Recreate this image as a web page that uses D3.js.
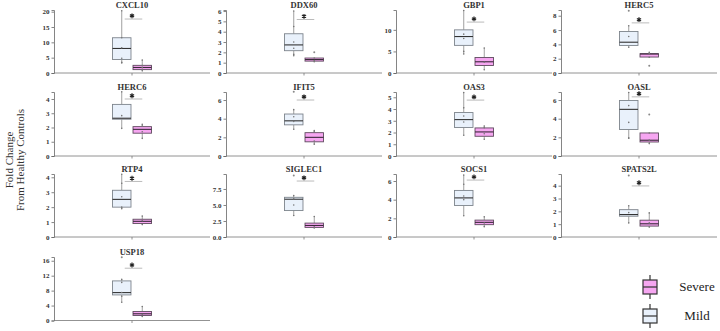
<!DOCTYPE html>
<html>
<head>
<meta charset="utf-8">
<script src="https://cdn.jsdelivr.net/npm/d3@7"></script>
<style>
  body { margin: 0; background: #fff; }
  svg { font-family: "Liberation Serif", "DejaVu Serif", serif; }
  .axis text { font-family: "Liberation Serif", serif; font-weight: bold; font-size: 7px; fill: #333; }
</style>
</head>
<body>
<svg class="chart" width="720" height="331"></svg>
<script>
// genes, one panel each
var genes = ["CXCL10", "DDX60", "GBP1", "HERC5",
             "HERC6", "IFIT5", "OAS3", "OASL",
             "RTP4", "SIGLEC1", "SOCS1", "SPATS2L",
             "USP18"];

// [min, q1, median, q3, max]
var mildStats = [
  [3.3, 4.4, 8.0, 11.5, 20.3],
  [1.67, 2.16, 2.72, 3.8, 6.0],
  [4.4, 6.4, 8.45, 10.0, 14.5],
  [3.6, 3.85, 4.3, 5.8, 6.6],
  [1.94, 2.58, 2.65, 3.62, 4.5],
  [2.87, 3.34, 3.77, 4.5, 4.97],
  [1.77, 2.43, 3.1, 3.7, 5.4],
  [1.94, 2.84, 5.0, 5.95, 6.8],
  [1.9, 2.0, 2.52, 3.13, 4.2],
  [3.35, 4.13, 5.9, 6.2, 6.47],
  [2.27, 3.38, 4.19, 4.99, 6.63],
  [1.1, 1.62, 1.75, 2.13, 2.44],
  [4.9, 6.85, 7.47, 10.6, 11.0]
];
var severeStats = [
  [0.7, 1.1, 1.8, 2.5, 4.2],
  [1.1, 1.15, 1.3, 1.45, 1.45],
  [0.76, 1.75, 2.6, 3.6, 5.8],
  [2.2, 2.23, 2.65, 2.7, 2.9],
  [1.24, 1.6, 1.87, 2.06, 2.22],
  [1.27, 1.52, 2.0, 2.5, 2.72],
  [1.43, 1.68, 2.05, 2.39, 2.56],
  [1.33, 1.5, 1.69, 2.47, 2.47],
  [0.83, 0.9, 1.05, 1.19, 1.4],
  [1.4, 1.5, 1.8, 2.17, 3.2],
  [1.11, 1.32, 1.57, 1.81, 2.16],
  [0.77, 0.85, 1.03, 1.31, 1.88],
  [1.07, 1.33, 1.8, 2.4, 3.73]
];

// individual samples drawn as dots
var mildPoints = [
  [11.5, 8.2, 4.8, 3.5], [4.5, 3.0, 2.4, 1.8], [9.0, 8.0, 5.0], [5.1],
  [2.83], [4.2, 3.7], [4.1, 3.4, 2.9], [5.4, 3.6, 1.9],
  [3.6, 2.7, 2.0], [6.0, 5.0], [5.65, 4.4, 4.0], [1.9],
  [10.2, 7.5, 6.5]
];
var severePoints = [
  [1.2, 1.8, 2.4], [1.2], [2.5], [2.7],
  [1.7, 2.1], [1.6, 2.6], [1.9, 2.4], [1.7],
  [1.1], [1.6], [1.5], [1.1],
  [1.6]
];
var mildOutliers = [[], [], [], [8.7], [], [6.9], [], [], [], [9.6], [], [4.8], [16.9]];
var severeOutliers = [[], [2.0], [], [1.0], [], [], [], [4.45], [], [], [], [], []];

// y axis per panel
var yMax = [20.55, 6.1, 14.6, 8.8, 4.49, 6.86, 5.45, 6.86, 4.22, 9.84, 6.75, 4.91, 17.0];
var yTicks = [
  [0, 5, 10, 15, 20], [0, 1, 2, 3, 4, 5, 6], [0, 5, 10], [0, 2, 4, 6, 8],
  [0, 1, 2, 3, 4], [0, 2, 4, 6], [0, 1, 2, 3, 4, 5], [0, 2, 4, 6],
  [0, 1, 2, 3, 4], [0, 2.5, 5, 7.5], [0, 2, 4, 6], [0, 1, 2, 3, 4],
  [0, 4, 8, 12, 16]
];
var tickFormat = [null, null, null, null, null, null, null, null, null, ".1f", null, null, null];
// height of the significance bar
var sigY = [17.6, 5.18, 11.8, 7.0, 4.0, 6.0, 4.76, 6.34, 3.72, 8.74, 6.1, 3.98, 14.0];

var groups = ["Mild", "Severe"];

var svg = d3.select(".chart");

var colX = [54, 226, 396, 561],
    panelW = 156,
    rowTop = [10, 92, 174, 257],
    rowBottom = [73, 156, 237, 320.5];

var fill = { Mild: "#e9f1fb", Severe: "#f6a6f1" },
    stroke = { Mild: "#7d848c", Severe: "#5e4a5e" },
    medStroke = { Mild: "#333", Severe: "#3a2a3a" };

var star = d3.symbol().type(d3.symbolAsterisk).size(16);

genes.forEach(function(gene, i) {
    var col = i % 4, row = Math.floor(i / 4);
    var x0 = colX[col], top = rowTop[row], bottom = rowBottom[row];

    var g = svg.append("g")
        .attr("class", "panel")
        .attr("transform", "translate(" + x0 + "," + top + ")");

    var h = bottom - top;
    var y = d3.scaleLinear().domain([0, yMax[i]]).range([h, 0]);
    var x = d3.scaleBand().domain(groups).range([panelW / 2 - 20, panelW / 2 + 20]).paddingInner(0.05).paddingOuter(0);
    var bw = x.bandwidth() - 1;

    var yAxis = d3.axisLeft(y).tickValues(yTicks[i]).tickSizeOuter(0).tickSize(2.5).tickPadding(2);
    if (tickFormat[i]) yAxis.tickFormat(d3.format(tickFormat[i]));
    else yAxis.tickFormat(d3.format("d"));

    g.append("g")
        .attr("class", "axis axis--y")
        .call(yAxis)
        .attr("font-family", null)
        .attr("font-size", null)
        .call(function(a) { a.select(".domain").attr("stroke", "#666").attr("stroke-width", 0.8); })
        .selectAll("line").attr("stroke", "#666").attr("stroke-width", 0.8);

    g.append("line")
        .attr("x1", 0).attr("x2", panelW)
        .attr("y1", h).attr("y2", h)
        .attr("stroke", "#777").attr("stroke-width", 0.8);
    g.append("line")
        .attr("x1", panelW / 2).attr("x2", panelW / 2)
        .attr("y1", h).attr("y2", h + 2.5)
        .attr("stroke", "#777").attr("stroke-width", 0.8);

    g.append("text")
        .attr("x", panelW / 2)
        .attr("y", -2.5)
        .attr("text-anchor", "middle")
        .attr("font-weight", "bold")
        .attr("font-size", "8.5px")
        .attr("fill", "#333")
        .text(gene);

    var stats = { Mild: mildStats[i], Severe: severeStats[i] },
        pts = { Mild: mildPoints[i], Severe: severePoints[i] },
        outs = { Mild: mildOutliers[i], Severe: severeOutliers[i] };

    groups.forEach(function(grp) {
        var s = stats[grp], cx = x(grp) + x.bandwidth() / 2;
        var bg = g.append("g").attr("class", "box " + grp);

        bg.append("line")
            .attr("x1", cx).attr("x2", cx)
            .attr("y1", y(s[0])).attr("y2", y(s[1]))
            .attr("stroke", "#888").attr("stroke-width", 0.8);
        bg.append("line")
            .attr("x1", cx).attr("x2", cx)
            .attr("y1", y(s[3])).attr("y2", y(s[4]))
            .attr("stroke", "#888").attr("stroke-width", 0.8);

        bg.append("rect")
            .attr("x", cx - bw / 2)
            .attr("y", y(s[3]))
            .attr("width", bw)
            .attr("height", Math.max(y(s[1]) - y(s[3]), 1))
            .attr("fill", fill[grp])
            .attr("stroke", stroke[grp])
            .attr("stroke-width", 0.9);

        bg.append("line")
            .attr("x1", cx - bw / 2).attr("x2", cx + bw / 2)
            .attr("y1", y(s[2])).attr("y2", y(s[2]))
            .attr("stroke", medStroke[grp]).attr("stroke-width", 1.1);

        bg.selectAll("circle.pt")
            .data(pts[grp].concat([s[0], s[4]]))
            .enter().append("circle")
            .attr("class", "pt")
            .attr("cx", cx)
            .attr("cy", function(d) { return y(d); })
            .attr("r", 0.8)
            .attr("fill", "#777");

        bg.selectAll("circle.out")
            .data(outs[grp])
            .enter().append("circle")
            .attr("class", "out")
            .attr("cx", cx)
            .attr("cy", function(d) { return y(d); })
            .attr("r", 1)
            .attr("fill", "#888");
    });

    // significance bar
    var xm = x("Mild") + x.bandwidth() / 2 + 3,
        xs = x("Severe") + x.bandwidth() / 2;
    g.append("line")
        .attr("x1", xm).attr("x2", xs)
        .attr("y1", y(sigY[i])).attr("y2", y(sigY[i]))
        .attr("stroke", "#aaa").attr("stroke-width", 0.8);
    g.append("path")
        .attr("d", star)
        .attr("transform", "translate(" + (panelW / 2) + "," + (y(sigY[i]) - 3.2) + ")")
        .attr("stroke", "#222")
        .attr("stroke-width", 1.2)
        .attr("fill", "none");
});

// y label
var lab = svg.append("text")
    .attr("transform", "translate(0,160) rotate(-90)")
    .attr("text-anchor", "middle")
    .attr("font-size", "11px")
    .attr("fill", "#333");
lab.append("tspan").attr("x", 0).attr("y", 13).text("Fold Change");
lab.append("tspan").attr("x", 0).attr("y", 24).text("From Healthy Controls");

// legend
var legend = svg.append("g").attr("class", "legend");
[["Severe", 280], ["Mild", 309]].forEach(function(d) {
    var grp = d[0], ly = d[1];
    legend.append("line")
        .attr("x1", 650).attr("x2", 650)
        .attr("y1", ly - 5).attr("y2", ly + 19)
        .attr("stroke", "#333").attr("stroke-width", 1.2);
    legend.append("rect")
        .attr("x", 643).attr("y", ly)
        .attr("width", 14).attr("height", 14)
        .attr("fill", fill[grp])
        .attr("stroke", "#333").attr("stroke-width", 1.2);
    legend.append("line")
        .attr("x1", 643).attr("x2", 657)
        .attr("y1", ly + 7).attr("y2", ly + 7)
        .attr("stroke", "#333").attr("stroke-width", 1.2);
    legend.append("text")
        .attr("x", 697).attr("y", ly + 11)
        .attr("text-anchor", "middle")
        .attr("font-size", "13px")
        .attr("fill", "#222")
        .text(grp);
});
</script>
</body>
</html>
